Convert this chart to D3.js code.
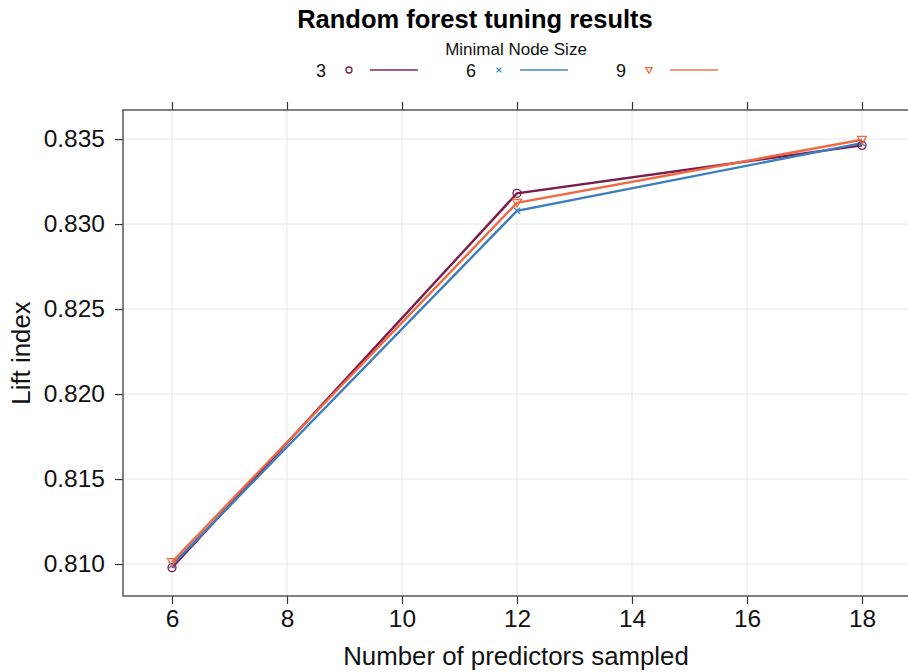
<!DOCTYPE html>
<html>
<head>
<meta charset="utf-8">
<script src="https://cdn.jsdelivr.net/npm/d3@7"></script>
<style>
  html, body { margin: 0; padding: 0; background: #fff; }
  svg { display: block; font-family: "Liberation Sans", Arial, sans-serif; }
</style>
</head>
<body>
<svg id="chart" width="908" height="672"></svg>
<script>
// Tuning grid: number of predictors sampled (mtry)
const mtry = [6, 12, 18];
// Minimal node size levels
const nodeSizes = ["3", "6", "9"];
// Lift index for each node size, at mtry = 6, 12, 18
const lift3 = [0.80979, 0.83181, 0.83463];
const lift6 = [0.80994, 0.83078, 0.83476];
const lift9 = [0.81012, 0.83125, 0.83496];
const xTicks = [6, 8, 10, 12, 14, 16, 18];
const yTicks = [0.810, 0.815, 0.820, 0.825, 0.830, 0.835];

const colors = ["#7a1d4c", "#3b7dbd", "#ef6a44"];
const symbols = ["circle", "cross", "triangle"];
const series = nodeSizes.map((n, i) => ({
  name: n,
  values: [lift3, lift6, lift9][i].map((v, j) => ({ x: mtry[j], y: v })),
  color: colors[i],
  symbol: symbols[i]
}));

const svg = d3.select("#chart");
const panel = { left: 123, top: 110, right: 911, bottom: 596 };

const x = d3.scaleLinear().domain([5.148, 18.852]).range([panel.left, panel.right]);
const y = d3.scaleLinear().domain([0.80812, 0.83671]).range([panel.bottom, panel.top]);

// grid
const grid = svg.append("g");
grid.selectAll("line.v").data(xTicks).join("line")
  .attr("x1", d => x(d)).attr("x2", d => x(d))
  .attr("y1", panel.top).attr("y2", panel.bottom)
  .attr("stroke", "#e6e6e6").attr("stroke-width", 1);
grid.selectAll("line.h").data(yTicks).join("line")
  .attr("y1", d => y(d)).attr("y2", d => y(d))
  .attr("x1", panel.left).attr("x2", panel.right)
  .attr("stroke", "#e6e6e6").attr("stroke-width", 1);

// axes
const tickStyle = g => {
  g.select(".domain").remove();
  g.selectAll(".tick line").attr("stroke", "#333").attr("stroke-width", 1.2);
  g.selectAll(".tick text").attr("fill", "#111").attr("font-size", 24.5)
    .attr("font-family", "Liberation Sans, Arial, sans-serif");
};
svg.append("g").attr("transform", `translate(0,${panel.bottom})`)
  .call(d3.axisBottom(x).tickValues(xTicks).tickSize(8).tickPadding(6).tickFormat(d3.format("d")))
  .call(tickStyle);
svg.append("g").attr("transform", `translate(0,${panel.top})`)
  .call(d3.axisTop(x).tickValues(xTicks).tickSize(8).tickFormat(""))
  .call(tickStyle);
svg.append("g").attr("transform", `translate(${panel.left},0)`)
  .call(d3.axisLeft(y).tickValues(yTicks).tickSize(8).tickPadding(10).tickFormat(d3.format(".3f")))
  .call(tickStyle);

// panel border
svg.append("rect")
  .attr("x", panel.left).attr("y", panel.top)
  .attr("width", panel.right - panel.left).attr("height", panel.bottom - panel.top)
  .attr("fill", "none").attr("stroke", "#555").attr("stroke-width", 1.5);

// symbol drawing helper
function drawSymbol(g, type, cx, cy, color, size) {
  if (type === "circle") {
    g.append("circle").attr("cx", cx).attr("cy", cy).attr("r", size)
      .attr("fill", "none").attr("stroke", color).attr("stroke-width", 1.3);
  } else if (type === "cross") {
    const s = size * 0.8;
    g.append("path")
      .attr("d", `M${cx - s},${cy - s}L${cx + s},${cy + s}M${cx - s},${cy + s}L${cx + s},${cy - s}`)
      .attr("stroke", color).attr("stroke-width", 1.3).attr("fill", "none");
  } else {
    const s = size * 1.1;
    g.append("path")
      .attr("d", `M${cx - s},${cy - s * 0.75}L${cx + s},${cy - s * 0.75}L${cx},${cy + s}Z`)
      .attr("stroke", color).attr("stroke-width", 1.3).attr("fill", "none");
  }
}

// lines and points
const line = d3.line().x(d => x(d.x)).y(d => y(d.y));
const plot = svg.append("g");
series.forEach(s => {
  plot.append("path").datum(s.values)
    .attr("d", line).attr("fill", "none")
    .attr("stroke", s.color).attr("stroke-width", 2.4);
});
series.forEach(s => {
  s.values.forEach(d => drawSymbol(plot, s.symbol, x(d.x), y(d.y), s.color, 4));
});

// axis titles
svg.append("text").attr("x", 516).attr("y", 665).attr("text-anchor", "middle")
  .attr("font-size", 25.8).attr("fill", "#111").text("Number of predictors sampled");
svg.append("text").attr("transform", "translate(30,353) rotate(-90)")
  .attr("text-anchor", "middle").attr("font-size", 25.8).attr("fill", "#111").text("Lift index");

// title
svg.append("text").attr("x", 475).attr("y", 28).attr("text-anchor", "middle")
  .attr("font-size", 25.5).attr("font-weight", "bold").attr("fill", "#000")
  .text("Random forest tuning results");

// legend
svg.append("text").attr("x", 516).attr("y", 55).attr("text-anchor", "middle")
  .attr("font-size", 17).attr("fill", "#111").text("Minimal Node Size");
const legend = svg.append("g");
series.forEach((s, i) => {
  const ox = 150 * i;
  legend.append("text").attr("x", 326 + ox).attr("y", 77).attr("text-anchor", "end")
    .attr("font-size", 18).attr("fill", "#111").text(s.name);
  drawSymbol(legend, s.symbol, 349 + ox, 70, s.color, 3);
  legend.append("line").attr("x1", 370 + ox).attr("x2", 418 + ox)
    .attr("y1", 70).attr("y2", 70)
    .attr("stroke", s.color).attr("stroke-width", 2).attr("stroke-opacity", 0.7);
});
</script>
</body>
</html>
